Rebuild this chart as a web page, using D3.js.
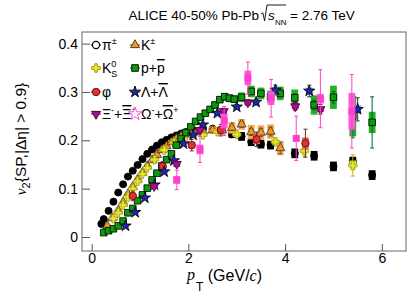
<!DOCTYPE html>
<html><head><meta charset="utf-8">
<script src="https://cdn.jsdelivr.net/npm/d3@7"></script>
<style>body{margin:0;background:#fff}svg{display:block}text{font-family:"Liberation Sans",Arial,sans-serif;fill:#000}</style>
</head><body><svg id="c" width="416" height="296"></svg>
<script>
// ---------- data ----------
const pionPt  =[0.2,0.25,0.35,0.45,0.55,0.65,0.75,0.85,0.95,1.05,1.15,1.25,1.35,1.45,1.55,1.65,1.75,1.85,1.95,2.1,2.3,2.5,2.7,2.9,3.1,3.3,3.5,3.7,4.2,4.6,5.0,5.4,5.8];
const pionV2  =[0.027,0.037,0.054,0.073,0.092,0.109,0.125,0.137,0.149,0.161,0.172,0.181,0.189,0.196,0.201,0.206,0.210,0.214,0.217,0.221,0.224,0.224,0.220,0.212,0.208,0.197,0.192,0.190,0.173,0.168,0.146,0.156,0.128];
const pionStat=[0,0,0,0,0,0,0,0,0,0,0,0,0,0,0,0,0,0,0,0,0,0,0.002,0.002,0.003,0.004,0.004,0.004,0.006,0.006,0.007,0.008,0.008];
const pionSys =[0.002,0.002,0.002,0.002,0.002,0.002,0.002,0.002,0.002,0.002,0.003,0.003,0.003,0.003,0.003,0.003,0.003,0.004,0.004,0.004,0.005,0.005,0.006,0.007,0.009,0.009,0.009,0.009,0.010,0.010,0.010,0.010,0.010];

const kaonPt  =[0.325,0.425,0.55,0.65,0.75,0.85,0.95,1.05,1.15,1.25,1.35,1.45,1.55,1.65,1.75,1.85,1.95,2.1,2.3,2.5,2.7,2.9,3.1,3.3,3.5,3.7,3.9];
const kaonV2  =[0.023,0.039,0.055,0.072,0.089,0.104,0.119,0.133,0.147,0.159,0.170,0.180,0.188,0.196,0.203,0.208,0.212,0.216,0.219,0.221,0.221,0.226,0.233,0.217,0.216,0.218,0.184];
const kaonStat=[0,0,0,0,0,0,0,0,0,0,0,0,0,0,0,0,0,0,0.002,0.003,0.004,0.005,0.006,0.007,0.008,0.009,0.012];
const kaonSys =[0.002,0.002,0.002,0.002,0.002,0.002,0.003,0.003,0.003,0.003,0.004,0.004,0.004,0.005,0.005,0.005,0.006,0.006,0.007,0.008,0.009,0.012,0.011,0.015,0.015,0.015,0.015];

const k0sPt  =[0.45,0.55,0.65,0.75,0.85,0.95,1.05,1.15,1.3,1.5,1.7,1.9,2.3,2.6,3.0,3.8,4.4,5.4];
const k0sV2  =[0.038,0.050,0.066,0.083,0.100,0.115,0.130,0.143,0.160,0.180,0.195,0.203,0.211,0.218,0.212,0.197,0.178,0.148];
const k0sStat=[0.002,0.002,0.002,0.002,0.002,0.002,0.002,0.002,0.002,0.002,0.003,0.003,0.004,0.004,0.005,0.008,0.012,0.022];
const k0sSys =[0.002,0.002,0.002,0.002,0.002,0.002,0.002,0.002,0.003,0.003,0.003,0.004,0.004,0.005,0.005,0.006,0.008,0.010];

const protonPt  =[0.25,0.35,0.45,0.55,0.65,0.75,0.85,0.95,1.05,1.15,1.25,1.35,1.45,1.55,1.65,1.75,1.85,1.95,2.05,2.15,2.25,2.35,2.45,2.55,2.65,2.75,2.85,2.95,3.1,3.3,3.5,3.7,3.9,4.2,4.6,5.0,5.4,5.8];
const protonV2  =[0.009,0.013,0.017,0.023,0.033,0.050,0.059,0.075,0.087,0.101,0.118,0.132,0.147,0.160,0.172,0.190,0.204,0.216,0.228,0.239,0.248,0.256,0.264,0.273,0.284,0.290,0.287,0.285,0.289,0.301,0.297,0.290,0.297,0.288,0.273,0.289,0.250,0.237];
const protonStat=[0,0,0,0,0,0,0,0,0,0,0,0,0,0,0,0,0,0,0,0,0,0,0.002,0.002,0.003,0.003,0.003,0.003,0.004,0.004,0.005,0.006,0.007,0.008,0.010,0.012,0.045,0.053];
const protonSys =[0.002,0.002,0.002,0.002,0.002,0.002,0.002,0.002,0.003,0.003,0.003,0.003,0.004,0.004,0.004,0.004,0.005,0.005,0.005,0.005,0.006,0.006,0.006,0.007,0.007,0.008,0.008,0.008,0.010,0.012,0.012,0.013,0.014,0.017,0.020,0.024,0.042,0.022];

const phiPt  =[0.85,1.47,2.07,2.67,3.41,4.42];
const phiV2  =[0.085,0.146,0.190,0.221,0.202,0.194];
const phiStat=[0.010,0.010,0.012,0.012,0.015,0.029];
const phiSys =[0.006,0.006,0.007,0.008,0.010,0.012];

const lambdaPt  =[0.7,0.9,1.1,1.3,1.5,1.7,1.9,2.1,2.3,2.6,3.0,3.4,3.8,4.5,5.5];
const lambdaV2  =[0.023,0.051,0.081,0.108,0.135,0.158,0.193,0.211,0.232,0.256,0.269,0.279,0.304,0.302,0.264];
const lambdaStat=[0.002,0.002,0.002,0.002,0.002,0.003,0.003,0.003,0.004,0.004,0.005,0.006,0.010,0.012,0.024];
const lambdaSys =[0.002,0.002,0.002,0.002,0.003,0.003,0.003,0.004,0.004,0.004,0.005,0.005,0.006,0.007,0.008];

const xiPt  =[1.29,1.76,2.24,2.73,3.23,4.21,4.73];
const xiV2  =[0.105,0.151,0.221,0.260,0.278,0.270,0.264];
const xiStat=[0.004,0.005,0.005,0.006,0.006,0.008,0.010];
const xiSys =[0.006,0.006,0.006,0.006,0.006,0.006,0.006];

const omegaPt  =[1.76,2.24,2.74,3.23,3.71,4.23,4.73,5.38];
const omegaV2  =[0.118,0.181,0.240,0.329,0.287,0.204,0.286,0.260];
const omegaStat=[0.020,0.027,0.030,0.033,0.039,0.046,0.060,0.076];
const omegaSys =[0.008,0.010,0.015,0.015,0.014,0.007,0.010,0.038];

const xTicks=[0,2,4,6];
const yTicks=[0,0.1,0.2,0.3,0.4];

// ---------- layout ----------
const svg=d3.select("#c");
const L=82,R=406,T=32,B=251;
const x=d3.scaleLinear().domain([-0.2,6.5]).range([L,R]);
const y=d3.scaleLinear().domain([-0.029,0.424]).range([B,T]);

const triDown={draw(ctx,size){const s=Math.sqrt(size/(Math.sqrt(3)/4));const h=s*Math.sqrt(3)/2;ctx.moveTo(0,h*2/3);ctx.lineTo(s/2,-h/3);ctx.lineTo(-s/2,-h/3);ctx.closePath();}};

const series=[
 {pt:pionPt,v:pionV2,st:pionStat,sy:pionSys,sym:d3.symbolCircle,size:40,fill:"#000",stroke:"#000",box:"#000",err:"#000"},
 {pt:kaonPt,v:kaonV2,st:kaonStat,sy:kaonSys,sym:d3.symbolTriangle,size:36,fill:"#f7941d",stroke:"#333",box:"#f9a94d",err:"#555"},
 {pt:k0sPt,v:k0sV2,st:k0sStat,sy:k0sSys,sym:d3.symbolCross,size:40,fill:"#e6e62a",stroke:"#9a9a10",box:"#eeee66",err:"#b8b820"},
 {pt:protonPt,v:protonV2,st:protonStat,sy:protonSys,sym:d3.symbolSquare,size:44,fill:"#0c9a0c",stroke:"#000",box:"#22b022",err:"#063"},
 {pt:phiPt,v:phiV2,st:phiStat,sy:phiSys,sym:d3.symbolCircle,size:44,fill:"#d93535",stroke:"#600",box:"#e86a6a",err:"#633"},
 {pt:lambdaPt,v:lambdaV2,st:lambdaStat,sy:lambdaSys,sym:d3.symbolStar,size:40,fill:"#1e2aa8",stroke:"#000",box:"#8080d0",err:"#333"},
 {pt:xiPt,v:xiV2,st:xiStat,sy:xiSys,sym:triDown,size:36,fill:"#a0109e",stroke:"#500",box:"#b020b0",err:"#707"},
 {pt:omegaPt,v:omegaV2,st:omegaStat,sy:omegaSys,sym:d3.symbolSquare,size:36,fill:"#ff3fcf",stroke:"#ff3fcf",box:"#ff5ad8",err:"#ff3fcf"}
];

// frame
svg.append("rect").attr("x",L).attr("y",T).attr("width",R-L).attr("height",B-T).attr("fill","none").attr("stroke","#666").attr("stroke-width",1);

svg.append("clipPath").attr("id","cp").append("rect").attr("x",L).attr("y",T).attr("width",R-L).attr("height",B-T);
const plot=svg.append("g").attr("clip-path","url(#cp)");

series.forEach(s=>{
  const g=plot.append("g");
  const idx=d3.range(s.pt.length);
  g.selectAll("rect.box").data(idx).join("rect").attr("class","box")
   .attr("x",i=>x(s.pt[i]-0.07)).attr("width",x(0.14)-x(0))
   .attr("y",i=>y(s.v[i]+s.sy[i])).attr("height",i=>y(s.v[i]-s.sy[i])-y(s.v[i]+s.sy[i]))
   .attr("fill",s.box);
  const e=idx.filter(i=>s.st[i]>0);
  g.selectAll("line.err").data(e).join("line").attr("class","err")
   .attr("x1",i=>x(s.pt[i])).attr("x2",i=>x(s.pt[i]))
   .attr("y1",i=>y(s.v[i]+s.st[i])).attr("y2",i=>y(s.v[i]-s.st[i]))
   .attr("stroke",s.err).attr("stroke-width",1);
  [1,-1].forEach((sg,k)=>{
   g.selectAll("line.cap"+k).data(e).join("line").attr("class","cap"+k)
    .attr("x1",i=>x(s.pt[i])-2).attr("x2",i=>x(s.pt[i])+2)
    .attr("y1",i=>y(s.v[i]+sg*s.st[i])).attr("y2",i=>y(s.v[i]+sg*s.st[i]))
    .attr("stroke",s.err).attr("stroke-width",1);
  });
  g.selectAll("path.mk").data(idx).join("path").attr("class","mk")
   .attr("d",d3.symbol(s.sym,s.size))
   .attr("transform",i=>`translate(${x(s.pt[i])},${y(s.v[i])})`)
   .attr("fill",s.fill).attr("stroke",s.stroke).attr("stroke-width",0.8);
});

// axes
const ax=svg.append("g").attr("transform",`translate(0,${B})`).call(d3.axisBottom(x).tickValues(xTicks).tickSize(-7).tickPadding(2).tickFormat(d3.format("d")));
const ay=svg.append("g").attr("transform",`translate(${L},0)`).call(d3.axisLeft(y).tickValues(yTicks).tickSize(-8).tickPadding(4).tickFormat(d=>d===0?"0":d3.format(".1f")(d)));
[ax,ay].forEach(a=>{a.select(".domain").remove();a.selectAll("line").attr("stroke","#555");a.selectAll("text").attr("font-size",14).attr("font-family","Liberation Sans, Arial, sans-serif").attr("fill","#000");});

// title
svg.append("text").attr("x",259).attr("y",20).attr("font-size",13.5).attr("text-anchor","end").text("ALICE 40-50% Pb-Pb");
svg.append("path").attr("d","M261,14 L262.8,12.8 L264.6,20.8 L267,5 L286,5").attr("fill","none").attr("stroke","#000").attr("stroke-width",0.9);
svg.append("text").attr("x",268).attr("y",20).attr("font-size",13.5).attr("font-style","italic").text("s");
svg.append("text").attr("x",275).attr("y",25).attr("font-size",8).text("NN");
svg.append("text").attr("x",290).attr("y",20).attr("font-size",13.5).text("= 2.76 TeV");

// x title
const xt=svg.append("text").attr("x",187).attr("y",280).attr("font-size",16);
xt.append("tspan").text("p").attr("font-family","Liberation Serif, serif").attr("font-style","italic");
xt.append("tspan").text("T").attr("font-size",12).attr("dy",11).attr("dx",1);
xt.append("tspan").text(" (GeV/").attr("dy",-10);
xt.append("tspan").text("c").attr("font-family","Liberation Serif, serif").attr("font-style","italic");
xt.append("tspan").text(")");

// y title
const yt=svg.append("text").attr("transform","translate(26,139) rotate(-90)").attr("text-anchor","middle").attr("font-size",15.5);
yt.append("tspan").text("v").attr("font-family","Liberation Serif, serif").attr("font-style","italic");
yt.append("tspan").text("2").attr("font-size",11).attr("dy",4);
yt.append("tspan").text("{SP,|\u0394\u03B7| > 0.9}").attr("dy",-4);

// legend
const legend=[
 {si:0,col:0,row:0,segs:[["\u03C0",""],["\u00B1","sup"]],open:true},
 {si:1,col:1,row:0,segs:[["K",""],["\u00B1","sup"]]},
 {si:2,col:0,row:1,segs:[["K",""],["0","sup"],["S","sub"]]},
 {si:3,col:1,row:1,segs:[["p+",""],["p","bar"]]},
 {si:4,col:0,row:2,segs:[["\u03C6",""]]},
 {si:5,col:1,row:2,segs:[["\u039B+",""],["\u039B","bar"]]},
 {si:6,col:0,row:3,segs:[["\u039E",""],["-","sup"],["+",""],["\u039E","bar"],["+","sup"]]},
 {si:7,col:1,row:3,segs:[["\u03A9",""],["-","sup"],["+",""],["\u03A9","bar"],["+","sup"]],star:true}
];
const rowY=[45,68,92,114], colX=[96,135];
legend.forEach(l=>{
  const s=series[l.si], cx=colX[l.col], cy=rowY[l.row];
  svg.append("line").attr("x1",cx-5).attr("x2",cx+5).attr("y1",cy).attr("y2",cy).attr("stroke",s.err).attr("stroke-width",1);
  svg.append("path").attr("d",d3.symbol(l.star?d3.symbolStar:s.sym,l.star?55:s.size)).attr("transform",`translate(${cx},${cy})`)
    .attr("fill",(l.open||l.star)?"#fff":s.fill).attr("stroke",l.star?s.fill:s.stroke).attr("stroke-width",l.open?1.2:0.9);
  const t=svg.append("text").attr("x",cx+6).attr("y",cy+5).attr("font-size",14);
  let cur=0;
  l.segs.forEach((sg,k)=>{
    const want=sg[1]=="sup"?-6:sg[1]=="sub"?4:0;
    const ts=t.append("tspan").text(sg[0]).attr("dy",want-cur);
    cur=want;
    if(sg[1]=="sup"||sg[1]=="sub") ts.attr("font-size",9);
    if(sg[1]=="sub"&&l.segs[k-1]&&l.segs[k-1][1]=="sup") ts.attr("dx",-5);
    if(sg[1]=="bar") ts.attr("text-decoration","overline");
  });
});
</script></body></html>
